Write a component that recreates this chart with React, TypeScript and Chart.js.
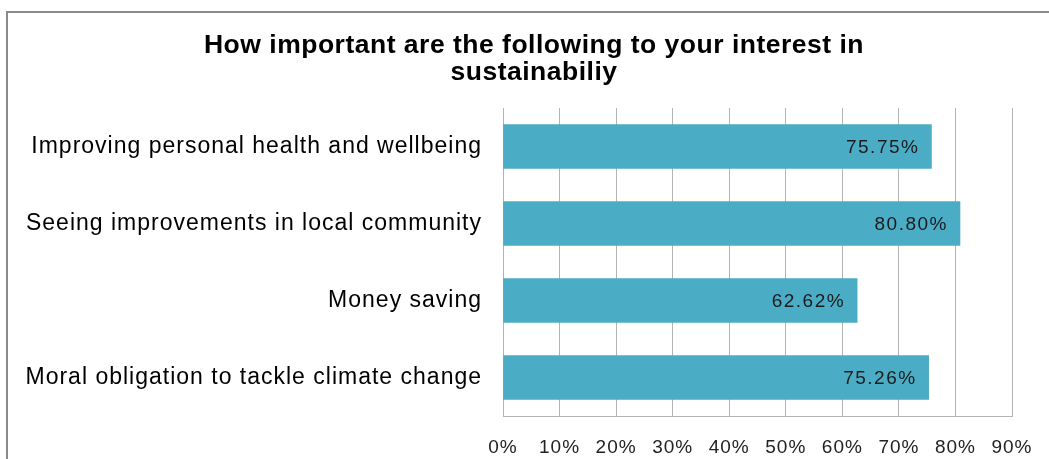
import React, { useEffect, useRef } from "react";
import { Chart, registerables } from "chart.js";

Chart.register(...registerables);

const titleLines = ["How important are the following to your interest in", "sustainabiliy"];
const categories = [
  "Improving personal health and wellbeing",
  "Seeing improvements in local community",
  "Money saving",
  "Moral obligation to tackle climate change",
];
const values = [75.75, 80.8, 62.62, 75.26];
const valueLabels = ["75.75%", "80.80%", "62.62%", "75.26%"];
const xTickValues = [0, 10, 20, 30, 40, 50, 60, 70, 80, 90];
const xTickLabels = ["0%", "10%", "20%", "30%", "40%", "50%", "60%", "70%", "80%", "90%"];

const BAR_COLOR = "#4BACC6";
const GRID_COLOR = "#B4B4B4";
const FONT = "'Liberation Sans', Arial, sans-serif";

const spacingPlugin = {
  id: "spacing",
  beforeUpdate(chart: any) {
    chart.ctx.letterSpacing = "1px";
  },
  beforeDraw(chart: any) {
    chart.ctx.letterSpacing = "1px";
  },
};

const titlePlugin = {
  id: "customTitle",
  afterDraw(chart: any) {
    const ctx = chart.ctx;
    ctx.save();
    ctx.letterSpacing = "0.5px";
    ctx.font = `bold 26.5px ${FONT}`;
    ctx.fillStyle = "#000";
    ctx.textAlign = "center";
    ctx.textBaseline = "alphabetic";
    const cx = 534;
    titleLines.forEach((line, i) => {
      ctx.fillText(line, cx, 53 + i * 27);
    });
    ctx.restore();
  },
};

const dataLabelPlugin = {
  id: "dataLabels",
  afterDatasetsDraw(chart: any) {
    const ctx = chart.ctx;
    const meta = chart.getDatasetMeta(0);
    ctx.save();
    ctx.letterSpacing = "1.5px";
    ctx.font = `19px ${FONT}`;
    ctx.fillStyle = "#1c1c1c";
    ctx.textAlign = "right";
    ctx.textBaseline = "middle";
    meta.data.forEach((bar: any, i: number) => {
      ctx.fillText(valueLabels[i], bar.x - 12, bar.y + 1);
    });
    ctx.restore();
  },
};

export default function App() {
  const canvasRef = useRef<HTMLCanvasElement | null>(null);

  useEffect(() => {
    if (!canvasRef.current) return;
    const chart = new Chart(canvasRef.current, {
      type: "bar",
      data: {
        labels: categories,
        datasets: [
          {
            data: values,
            backgroundColor: BAR_COLOR,
            borderWidth: 0,
            barThickness: 44,
          },
        ],
      },
      options: {
        indexAxis: "y",
        animation: false,
        responsive: false,
        devicePixelRatio: 1,
        layout: { padding: { left: 0, right: 37, top: 108, bottom: 0 } },
        plugins: {
          legend: { display: false },
          tooltip: { enabled: false },
          title: { display: false },
        },
        scales: {
          x: {
            min: 0,
            max: 90,
            afterBuildTicks(scale: any) {
              scale.ticks = xTickValues.map((v) => ({ value: v }));
            },
            afterFit(scale: any) {
              scale.height = 43;
              scale.paddingLeft = 0;
              scale.paddingRight = 0;
            },
            grid: { color: GRID_COLOR, lineWidth: 1, drawTicks: false },
            border: { display: true, color: GRID_COLOR, width: 1 },
            ticks: {
              padding: 20,
              color: "#222",
              font: { family: FONT, size: 19 },
              callback: (v: any) => xTickLabels[xTickValues.indexOf(Number(v))] ?? "",
            },
          },
          y: {
            afterFit(scale: any) {
              scale.width = 503;
            },
            grid: { display: false, drawTicks: false },
            border: { display: true, color: GRID_COLOR, width: 1 },
            ticks: {
              padding: 21,
              color: "#000",
              font: { family: FONT, size: 23 },
            },
          },
        },
      },
      plugins: [spacingPlugin, dataLabelPlugin, titlePlugin],
    } as any);
    return () => chart.destroy();
  }, []);

  return (
    <div
      style={{
        position: "fixed",
        left: 0,
        top: 0,
        width: 1049,
        height: 459,
        overflow: "hidden",
        background: "#fff",
      }}
    >
      <div
        style={{
          position: "absolute",
          left: 6,
          top: 11,
          width: 1100,
          height: 520,
          border: "2px solid #8a8a8a",
          boxSizing: "border-box",
        }}
      />
      <canvas
        ref={canvasRef}
        width={1049}
        height={459}
        style={{ position: "absolute", left: 0, top: 0, width: 1049, height: 459 }}
      />
    </div>
  );
}
